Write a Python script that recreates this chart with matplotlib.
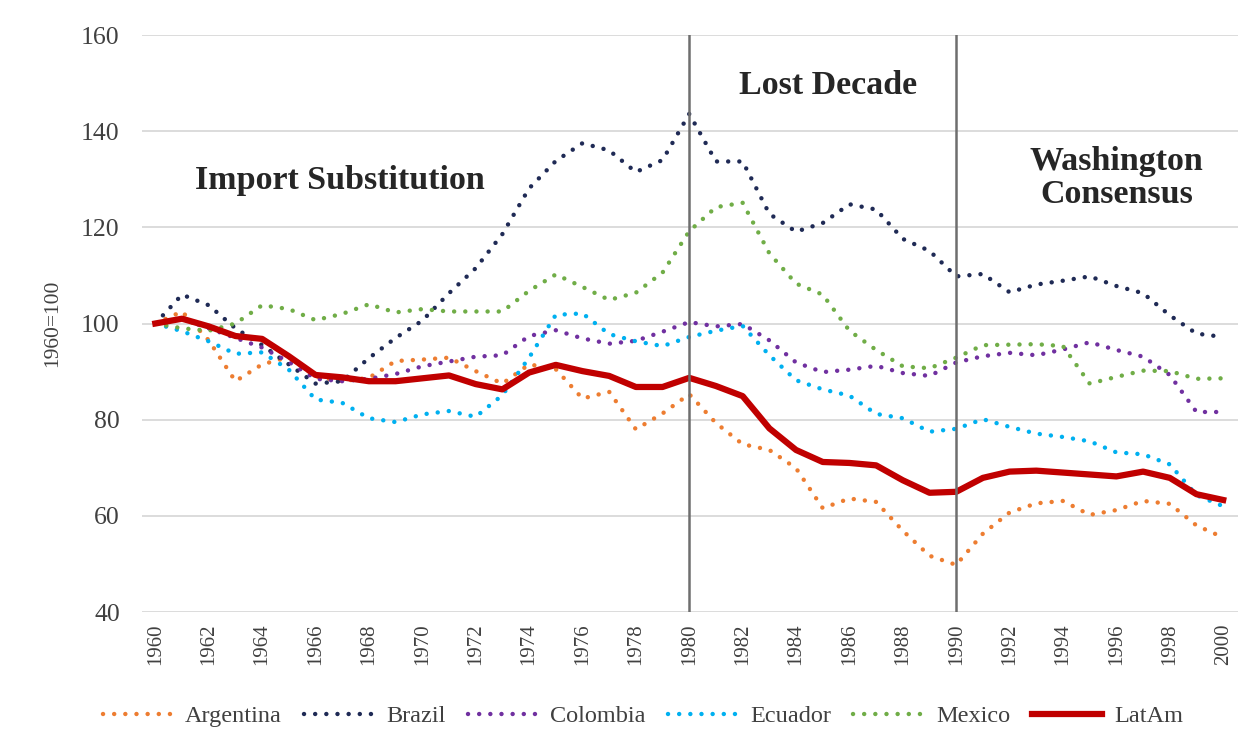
import matplotlib.pyplot as plt
import numpy as np

# Real exchange rate index, 1960=100
years = list(range(1960, 2001))
argentina = [100, 102.5, 96.5, 88, 91.5, 93, 89, 88, 88.7, 92.2,
             92.5, 92.9, 90.1, 87.5, 91.5, 90.5, 84.4, 85.8, 78, 81.3,
             85.3, 79.3, 74.9, 73.7, 69.9, 61.6, 63.6, 62.9, 56.9, 51.7,
             49.8, 56.3, 60.7, 62.6, 63.1, 60.2, 61.2, 63.1, 62.5, 58.0, 55.5]
brazil = [100, 106, 103.8, 99, 95.5, 91.5, 87.5, 88, 92.8, 97,
          100.6, 106.3, 111.5, 118.6, 128.1, 133.8, 137.5, 136, 131.5, 134,
          143.6, 133.7, 133.7, 122.8, 119.1, 120.9, 124.8, 123.7, 117.6, 115.1,
          109.8, 110.3, 106.5, 108.1, 108.9, 109.8, 107.8, 106.3, 101.7, 97.9, 97.2]
colombia = [100, 101, 99, 97, 95, 92, 88.5, 88, 88.5, 89.5,
            91.1, 92.1, 93.1, 93.4, 97.4, 98.6, 96.9, 95.8, 96.4, 98.3,
            100.3, 99.4, 99.9, 96.5, 91.9, 89.9, 90.4, 91.2, 89.7, 89.1,
            91.9, 93.2, 93.9, 93.4, 94.6, 96.1, 94.5, 93.1, 89.3, 81.6, 81.6]
ecuador = [100, 98.4, 96.3, 93.7, 94, 90.4, 84.2, 83.5, 80.3, 79.5,
           81.1, 81.8, 80.6, 85.1, 92.9, 101.8, 102.1, 97.8, 96.3, 95.3,
           97.2, 98.5, 99.5, 93.4, 88.2, 86.3, 85, 81.2, 80.3, 77.5,
           78.1, 80.1, 78.5, 77.1, 76.4, 75.5, 73.2, 72.8, 70.7, 64.3, 62]
mexico = [100, 99, 98.5, 100, 103.8, 103, 100.7, 102, 104, 102.3,
          103, 102.5, 102.5, 102.5, 106.8, 110.2, 107.6, 104.9, 106.4, 110.6,
          119.2, 124.2, 125.1, 114.6, 108.3, 106, 98.5, 94.5, 91.1, 90.7,
          92.9, 95.5, 95.6, 95.7, 95.3, 87.5, 88.9, 90.2, 90.1, 88.5, 88.6]
latam = [100, 101, 99.4, 97.4, 96.8, 93.2, 89.3, 88.8, 88, 88,
         88.6, 89.2, 87.4, 86.3, 89.8, 91.4, 90.1, 89.1, 86.8, 86.8,
         88.7, 87, 84.9, 78.2, 73.7, 71.2, 71, 70.5, 67.4, 64.8,
         65, 67.9, 69.2, 69.4, 69, 68.6, 68.2, 69.2, 67.9, 64.5, 63.3]

series = [("Argentina", argentina, "#ED7D31"),
          ("Brazil", brazil, "#1F2A55"),
          ("Colombia", colombia, "#7030A0"),
          ("Ecuador", ecuador, "#00B0F0"),
          ("Mexico", mexico, "#70AD47")]

periods = [1980, 1990]
period_labels = ["Import Substitution", "Lost Decade", "Washington\nConsensus"]

serif = "Liberation Serif"
txt = "#404040"

fig = plt.figure(figsize=(12.51, 7.48), dpi=100)
ax = fig.add_axes([0.1135, 0.1818, 0.876, 0.7714])

for name, vals, col in series:
    ax.plot(years, vals, color=col, lw=3.2, linestyle=(0, (0.01, 2.5)),
            dash_capstyle="round", label=name, zorder=3)
ax.plot(years, latam, color="#C00000", lw=4.5, label="LatAm", zorder=4,
        solid_joinstyle="round")

for p in periods:
    ax.axvline(p, color="#6E6E6E", lw=1.8, zorder=5)

ax.set_xlim(1959.5, 2000.55)
ax.set_ylim(40, 160)
ax.set_yticks(range(40, 161, 20))
ax.set_xticks(range(1960, 2001, 2))
ax.grid(axis="y", color="#D9D9D9", lw=1.3)
ax.set_axisbelow(True)
for s in ax.spines.values():
    s.set_visible(False)
ax.tick_params(length=0)
ax.tick_params(axis="y", pad=16, labelsize=18.5, labelcolor=txt)
ax.tick_params(axis="x", pad=8, labelsize=15, labelcolor=txt, labelrotation=90)
for lab in ax.get_xticklabels() + ax.get_yticklabels():
    lab.set_family(serif)
ax.set_ylabel("1960=100", family=serif, fontsize=15.5, color=txt, labelpad=14)

ax.text(1966.9, 129.8, period_labels[0], family=serif, fontsize=24.5,
        fontweight="bold", ha="center", va="center", color="#262626")
ax.text(1985.2, 149.6, period_labels[1], family=serif, fontsize=24.5,
        fontweight="bold", ha="center", va="center", color="#262626")
ax.text(1996.0, 130.3, period_labels[2], family=serif, fontsize=24.5,
        fontweight="bold", ha="center", va="center", color="#262626",
        linespacing=1.1)

fig.legend(loc="center", bbox_to_anchor=(643 / 1251, 1 - 716 / 748), ncol=6,
           frameon=False, prop={"family": serif, "size": 17.5},
           handlelength=2.9, handletextpad=0.5, columnspacing=0.9,
           labelcolor=txt)

fig.savefig("out.png", dpi=100)
